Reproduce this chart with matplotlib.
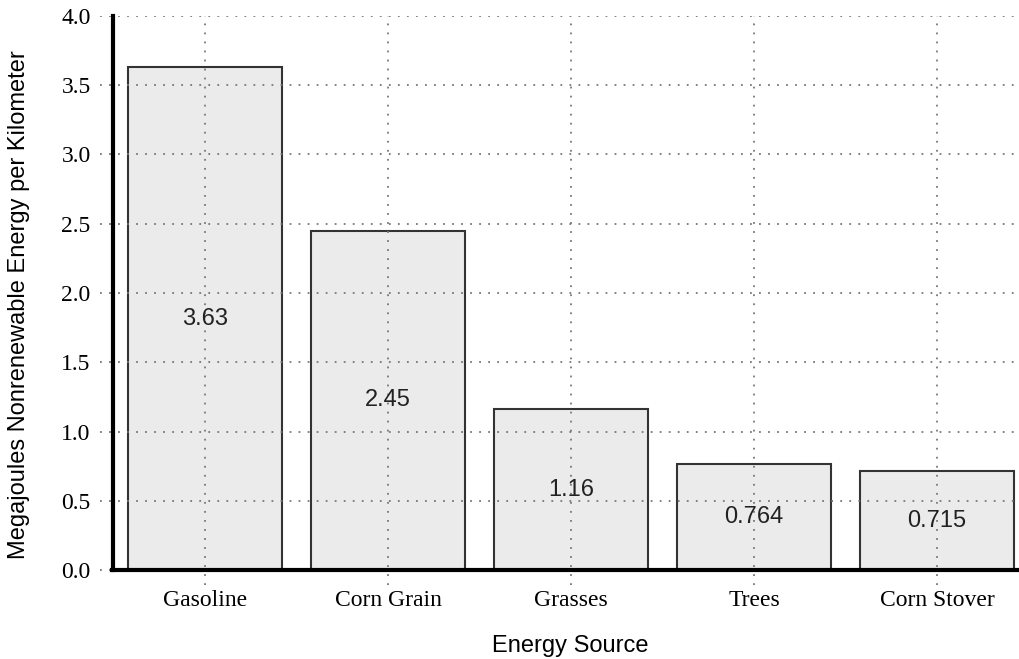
import matplotlib
matplotlib.use("Agg")
import matplotlib.pyplot as plt
import numpy as np

# datos
fuentes = ["Gasoline", "Corn Grain", "Grasses", "Trees", "Corn Stover"]
valores = [3.63, 2.45, 1.16, 0.764, 0.715]
etiquetas = ["3.63", "2.45", "1.16", "0.764", "0.715"]
yticks = [0.0, 0.5, 1.0, 1.5, 2.0, 2.5, 3.0, 3.5, 4.0]

plt.rcParams['font.family'] = ['Liberation Sans', 'DejaVu Sans']

fig = plt.figure(figsize=(10.19, 6.59), dpi=100)
ax = fig.add_axes([0.098, 0.112, 0.902, 0.864])

# primero la posicion de los ejes (resetea los ticks)
for s in ["top", "right"]:
    ax.spines[s].set_visible(False)
ax.spines["left"].set_position(("data", -0.503))
ax.spines["bottom"].set_position(("data", 0.0))
ax.spines["left"].set_linewidth(3)
ax.spines["bottom"].set_linewidth(3)
ax.spines["left"].set_zorder(5)
ax.spines["bottom"].set_zorder(5)

x = np.arange(len(fuentes))
ax.bar(x, valores, width=0.84, color="#ebebeb", edgecolor="#333333", linewidth=1.5, zorder=2)

for xi, v, t in zip(x, valores, etiquetas):
    ax.text(xi, v/2.0, t, ha="center", va="center", fontsize=17, color="#222222", zorder=4)

ax.set_xlim(-0.574, 4.448)
ax.set_ylim(-0.108, 4.0)
ax.spines["left"].set_bounds(0, 4.0)
ax.spines["bottom"].set_bounds(-0.51, 4.448)
ax.set_xticks(x)
ax.set_xticklabels(fuentes, family="Liberation Serif", fontsize=17)
ax.set_yticks(yticks)
ax.set_yticklabels(["%.1f" % t for t in yticks], family="Liberation Serif", fontsize=17)

ax.grid(True, linestyle=(0, (1, 4)), color="#777777", linewidth=1.3, zorder=3)
ax.set_axisbelow(False)

ax.tick_params(axis="y", length=0, pad=16)
ax.tick_params(axis="x", length=0, pad=14)

fig.text(570/1019.0, 1-646/659.0, "Energy Source", ha="center", va="center", fontsize=17)
fig.text(19/1019.0, 1-305/659.0, "Megajoules Nonrenewable Energy per Kilometer",
         ha="center", va="center", rotation=90, fontsize=17)

plt.savefig("out.png", dpi=100)
plt.close()
